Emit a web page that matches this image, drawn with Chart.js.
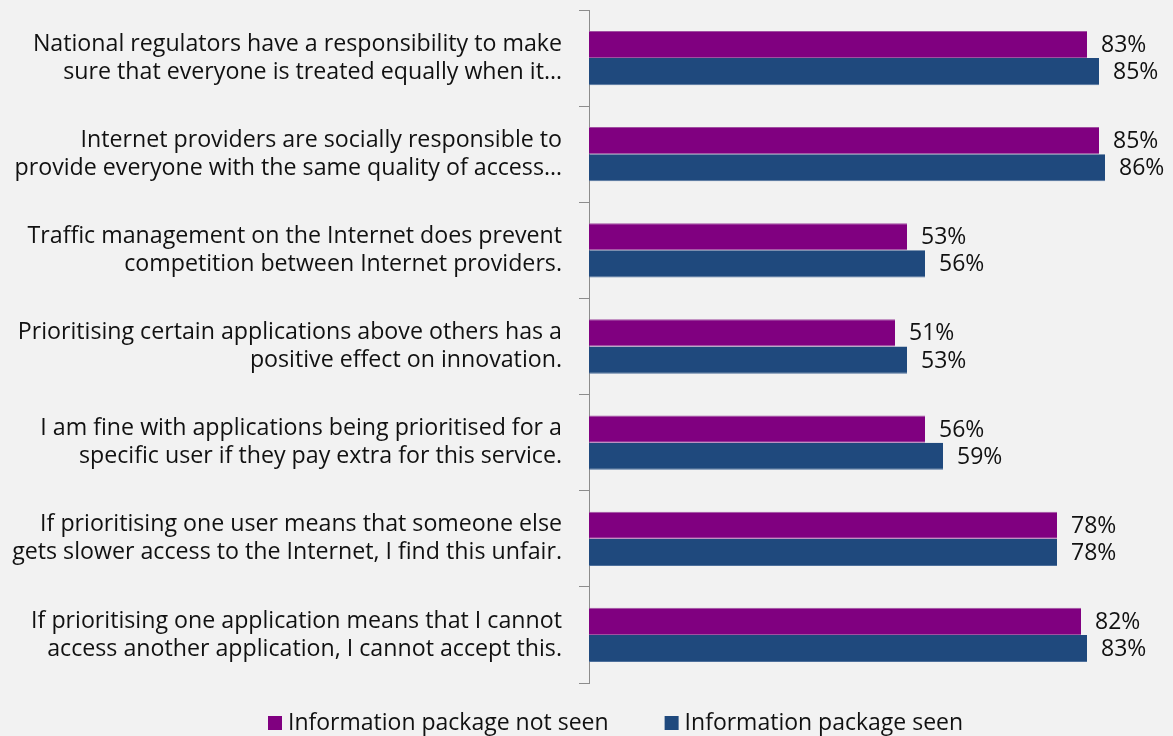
<!DOCTYPE html>
<html>
<head>
<meta charset="utf-8">
<script src="https://cdn.jsdelivr.net/npm/chart.js@4.4.0/dist/chart.umd.min.js"></script>
<style>
  html, body { margin: 0; padding: 0; background: #f2f2f2; }
  #wrap { width: 1173px; height: 736px; position: relative; }
</style>
</head>
<body>
<div id="wrap"><canvas id="c"></canvas></div>
<script>
// Statements (each split over two lines)
const statements = [
  ["National regulators have a responsibility to make", "sure that everyone is treated equally when it…"],
  ["Internet providers are socially responsible to", "provide everyone with the same quality of access…"],
  ["Traffic management on the Internet does prevent", "competition between Internet providers."],
  ["Prioritising certain applications above others has a", "positive effect on innovation."],
  ["I am fine with applications being prioritised for a", "specific user if they pay extra for this service."],
  ["If prioritising one user means that someone else", "gets slower access to the Internet, I find this unfair."],
  ["If prioritising one application means that I cannot", "access another application, I cannot accept this."]
];

// Share agreeing (%)
const notSeenValues = [83, 85, 53, 51, 56, 78, 82];
const seenValues    = [85, 86, 56, 53, 59, 78, 83];

const seriesNames = ["Information package not seen", "Information package seen"];

const FONT = "'Open Sans'";
const TEXT = "#111111";

// Percent labels at the end of each bar
const valueLabels = {
  id: "valueLabels",
  afterDatasetsDraw(chart) {
    const ctx = chart.ctx;
    ctx.save();
    ctx.font = "23px " + FONT;
    ctx.fillStyle = TEXT;
    ctx.textBaseline = "middle";
    ctx.textAlign = "left";
    chart.data.datasets.forEach((ds, i) => {
      chart.getDatasetMeta(i).data.forEach((bar, j) => {
        ctx.fillText(ds.data[j] + "%", bar.x + 14, bar.y + 1);
      });
    });
    ctx.restore();
  }
};

// Legend row under the plot
const bottomLegend = {
  id: "bottomLegend",
  afterDraw(chart) {
    const ctx = chart.ctx;
    ctx.save();
    ctx.font = "23px " + FONT;
    ctx.textBaseline = "middle";
    ctx.textAlign = "left";
    let x = 268;
    const y = 722;
    chart.data.datasets.forEach(ds => {
      ctx.fillStyle = ds.backgroundColor;
      ctx.fillRect(x, y - 6, 14, 14);
      ctx.fillStyle = TEXT;
      ctx.fillText(ds.label, x + 20, y + 1);
      x += 20 + ctx.measureText(ds.label).width + 56;
    });
    ctx.restore();
  }
};

new Chart(document.getElementById("c"), {
  type: "bar",
  data: {
    labels: statements,
    datasets: [
      {
        label: seriesNames[0],
        data: notSeenValues,
        backgroundColor: "#800080",
        borderColor: "#a14fa1",
        borderWidth: { top: 1, bottom: 1, right: 0, left: 0 },
        borderSkipped: false
      },
      {
        label: seriesNames[1],
        data: seenValues,
        backgroundColor: "#1f497d",
        borderColor: "#4d6f9b",
        borderWidth: { top: 0, bottom: 1, right: 0, left: 0 },
        borderSkipped: false
      }
    ]
  },
  options: {
    indexAxis: "y",
    responsive: true,
    maintainAspectRatio: false,
    animation: false,
    events: [],
    layout: { padding: { top: 10, bottom: 53, left: 0, right: 0 } },
    datasets: { bar: { categoryPercentage: 0.565, barPercentage: 1.0 } },
    scales: {
      x: {
        display: false,
        min: 0,
        max: 584 / 6
      },
      y: {
        offset: true,
        afterFit(scale) {
          scale.width = 589;
          scale.paddingTop = 0;
          scale.paddingBottom = 0;
        },
        border: { display: true, color: "#8c8c8c", width: 1 },
        grid: {
          offset: true,
          drawOnChartArea: false,
          drawTicks: true,
          tickLength: 10,
          color: "#8c8c8c"
        },
        ticks: {
          padding: 17,
          color: TEXT,
          font: { family: FONT, size: 23.2, lineHeight: "28px" }
        }
      }
    },
    plugins: {
      legend: { display: false },
      tooltip: { enabled: false },
      title: { display: false }
    }
  },
  plugins: [valueLabels, bottomLegend]
});
</script>
</body>
</html>
